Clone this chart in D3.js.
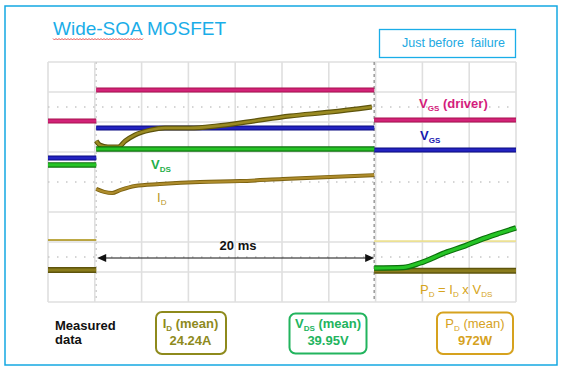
<!DOCTYPE html>
<html><head><meta charset="utf-8">
<script src="https://cdn.jsdelivr.net/npm/d3@7"></script>
<style>html,body{margin:0;padding:0;background:#fff;}svg{display:block;font-family:"Liberation Sans",Arial,sans-serif;}</style>
</head><body>
<script>
// ---- data (x in scope divisions 0..10, y in divisions 0..8) ----
const tOn = 1.03, tOff = 6.97, xEnd = 10;
const vgsDriver = { before: 6.03, during: 7.07, after: 6.07 };
const vgs       = { before: 4.80, during: 5.80, after: 5.07 };
const vdsBefore = 4.57, vdsDuring = 5.10;
const vdsAfter  = [[6.97,1.13],[7.59,1.15],[7.95,1.30],[8.53,1.67],[8.91,1.87],[9.23,2.07],[9.66,2.30],[10,2.47]];
const idBase    = 1.07;
const idDuring  = [[1.03,3.77],[1.20,3.67],[1.37,3.63],[1.54,3.73],[1.86,3.87],[2.39,3.93],[3.25,4.00],[4.10,4.03],[5.02,4.10],[6.03,4.17],[6.97,4.23]];
const pdBase    = 2.07;
const pdDuring  = [[1.03,5.37],[1.11,5.23],[1.28,5.17],[1.50,5.17],[1.65,5.37],[1.86,5.57],[2.18,5.73],[2.50,5.80],[3.03,5.80],[3.61,5.87],[4.25,6.00],[5.17,6.20],[6.03,6.33],[6.92,6.50]];
const dottedRows = [6.5, 4.0, 1.5];
const measLabels = ["I|D| (mean)", "V|DS| (mean)", "P|D| (mean)"];
const measValues = ["24.24A", "39.95V", "972W"];
const arrowLabel = "20 ms";

const W = 562, H = 371;
const svg = d3.select("body").append("svg").attr("width", W).attr("height", H);
const x = d3.scaleLinear().domain([0, 10]).range([48, 516]);
const y = d3.scaleLinear().domain([0, 8]).range([302, 62]);
const line = d3.line().x(d => x(d[0])).y(d => y(d[1]));
const smooth = d3.line().x(d => x(d[0])).y(d => y(d[1])).curve(d3.curveMonotoneX);

// outer frame
svg.append("rect").attr("x", 5).attr("y", 6).attr("width", 552).attr("height", 359)
  .attr("fill", "none").attr("stroke", "#14A8E2").attr("stroke-width", 1.5);

// title
svg.append("text").attr("x", 53).attr("y", 35).attr("font-size", 19).attr("fill", "#1AADE8")
  .text("Wide-SOA MOSFET");
let sq = "M53,38.5";
for (let i = 0, xx = 53; xx < 143; i++) { xx += 1.5; sq += "L" + xx + "," + (i % 2 ? 38.5 : 40); }
svg.append("path").attr("d", sq).attr("fill", "none").attr("stroke", "#E02828").attr("stroke-width", 0.8);

// "Just before failure" box
svg.append("rect").attr("x", 379.5).attr("y", 29.5).attr("width", 136).attr("height", 28)
  .attr("fill", "none").attr("stroke", "#1AADE8").attr("stroke-width", 1.3);
svg.append("text").attr("x", 402).attr("y", 47).attr("font-size", 12.5).attr("fill", "#22A9E2")
  .attr("xml:space", "preserve").text("Just before  failure");

// grid
const g = svg.append("g");
g.selectAll(".vg").data(d3.range(0, 11)).join("line")
  .attr("x1", d => x(d)).attr("x2", d => x(d)).attr("y1", y(8)).attr("y2", y(0))
  .attr("stroke", "#DFDFDF").attr("stroke-width", 1.6);
g.selectAll(".hg").data(d3.range(0, 9).filter(d => d !== 4)).join("line")
  .attr("x1", x(0)).attr("x2", x(10)).attr("y1", d => y(d)).attr("y2", d => y(d))
  .attr("stroke", "#DFDFDF").attr("stroke-width", 1.6);
g.selectAll(".dg").data(dottedRows).join("line")
  .attr("x1", x(0)).attr("x2", x(10)).attr("y1", d => y(d)).attr("y2", d => y(d))
  .attr("stroke", "#C8C8C8").attr("stroke-width", 1.4).attr("stroke-dasharray", "1.5,7.5");
// trigger transition line
svg.append("line").attr("x1", x(tOff)).attr("x2", x(tOff)).attr("y1", y(8)).attr("y2", y(0))
  .attr("stroke", "#9A9A9A").attr("stroke-width", 1.5).attr("stroke-dasharray", "3,3");
svg.append("line").attr("x1", x(tOn)).attr("x2", x(tOn)).attr("y1", y(8)).attr("y2", y(0))
  .attr("stroke", "#C8C8C8").attr("stroke-width", 1.2).attr("stroke-dasharray", "2,4");

function trace(pts, dark, core, wDark, wCore, curve) {
  const gen = curve ? smooth : line;
  svg.append("path").attr("d", gen(pts)).attr("fill", "none").attr("stroke", dark).attr("stroke-width", wDark);
  svg.append("path").attr("d", gen(pts)).attr("fill", "none").attr("stroke", core).attr("stroke-width", wCore);
}
const flat = (a, b, v) => [[a, v], [b, v]];

// PD thin baseline
trace(flat(0, tOn, pdBase), "#B09A38", "#C2AE4A", 2, 1.2);
trace(flat(tOff, xEnd, pdBase - 0.04), "#EADB80", "#EEE290", 1.4, 1);

// VGS driver (magenta)
trace(flat(0, tOn, vgsDriver.before), "#A8104E", "#D22378", 5, 3);
trace(flat(tOn, tOff, vgsDriver.during), "#A8104E", "#D22378", 5, 3);
trace(flat(tOff, xEnd, vgsDriver.after), "#A8104E", "#D22378", 5, 3);
// VGS (blue)
trace(flat(0, tOn, vgs.before), "#0A0A80", "#2323C0", 5, 3);
trace(flat(tOn, tOff, vgs.during), "#0A0A80", "#2323C0", 5, 3);
trace(flat(tOff, xEnd, vgs.after), "#0A0A80", "#2323C0", 5, 3);
// PD during (olive)
trace(pdDuring, "#5E540C", "#9A8A22", 5, 2.6, true);
// ID (olive/brown)
trace(flat(0, tOn, idBase), "#5E540C", "#8A7C1C", 6, 3);
trace(idDuring, "#7C6210", "#AE8C2C", 4, 2.2, true);
trace(flat(tOff, xEnd, idBase - 0.03), "#5E540C", "#8A7C1C", 6, 3);
// VDS (green)
trace(flat(0, tOn, vdsBefore), "#0C700C", "#26C426", 5.5, 3.2);
trace(flat(tOn, tOff, vdsDuring), "#0C700C", "#26C426", 5.5, 3.2);
trace(vdsAfter, "#0C700C", "#26C426", 5.5, 3.2, true);

// arrow 20 ms
const ay = 258;
svg.append("line").attr("x1", x(tOn) + 6).attr("x2", x(tOff) - 6).attr("y1", ay).attr("y2", ay)
  .attr("stroke", "#111").attr("stroke-width", 1);
svg.append("path").attr("d", `M${x(tOn) + 1},${ay}L${x(tOn) + 10},${ay - 4}L${x(tOn) + 10},${ay + 4}Z`).attr("fill", "#111");
svg.append("path").attr("d", `M${x(tOff)},${ay}L${x(tOff) - 9},${ay - 4}L${x(tOff) - 9},${ay + 4}Z`).attr("fill", "#111");
svg.append("text").attr("x", 238).attr("y", 250).attr("text-anchor", "middle").attr("font-size", 13)
  .attr("font-weight", "bold").attr("fill", "#111").text(arrowLabel);

// labels with subscripts: "main|sub|rest"
function sublabel(parent, px, py, spec, color, size, weight, anchor) {
  const [a, b, c] = spec.split("|");
  const t = parent.append("text").attr("x", px).attr("y", py).attr("fill", color)
    .attr("font-size", size).attr("font-weight", weight).attr("text-anchor", anchor || "start")
    .attr("xml:space", "preserve");
  t.append("tspan").text(a);
  t.append("tspan").attr("font-size", size * 0.62).attr("dy", 3).text(b);
  if (c) t.append("tspan").attr("dy", -3).text(c);
  return t;
}
function multiSub(px, py, parts, color, size, weight) {
  const t = svg.append("text").attr("x", px).attr("y", py).attr("fill", color)
    .attr("font-size", size).attr("font-weight", weight).attr("xml:space", "preserve");
  parts.forEach(p => {
    if (p.sub) t.append("tspan").attr("font-size", size * 0.62).attr("dy", 3).text(p.t);
    else t.append("tspan").attr("dy", p.after ? -3 : 0).text(p.t);
  });
}
sublabel(svg, 419, 108, "V|GS| (driver)", "#D41C7C", 13, "bold");
sublabel(svg, 420, 140, "V|GS|", "#1818B0", 13, "bold");
sublabel(svg, 151, 169, "V|DS|", "#1FAF4A", 13, "bold");
sublabel(svg, 157, 202, "I|D|", "#B8961E", 13, "normal");
multiSub(420, 294, [{t:"P"},{t:"D",sub:true},{t:" = I",after:true},{t:"D",sub:true},{t:" x V",after:true},{t:"DS",sub:true}], "#D6A420", 13, "normal");

// measured data
svg.append("text").attr("x", 55).attr("y", 330).attr("font-size", 13).attr("font-weight", "bold").attr("fill", "#111").text("Measured");
svg.append("text").attr("x", 55).attr("y", 344).attr("font-size", 13).attr("font-weight", "bold").attr("fill", "#111").text("data");

const boxes = [
  { x: 156, y: 312, w: 70, h: 42, color: "#8E8A1C", cx: 190.5, w1: "bold" },
  { x: 289.5, y: 313.5, w: 77, h: 40, color: "#22B45E", cx: 328, w1: "bold" },
  { x: 437, y: 312.5, w: 76, h: 41.5, color: "#D6A21E", cx: 475, w1: "normal" }
];
boxes.forEach((b, i) => {
  svg.append("rect").attr("x", b.x).attr("y", b.y).attr("width", b.w).attr("height", b.h)
    .attr("rx", 6).attr("fill", "#fff").attr("stroke", b.color).attr("stroke-width", 2);
  sublabel(svg, b.cx, 328, measLabels[i], b.color, 13, b.w1, "middle");
  svg.append("text").attr("x", b.cx).attr("y", 345).attr("text-anchor", "middle").attr("font-size", 13)
    .attr("font-weight", "bold").attr("fill", b.color).text(measValues[i]);
});
</script>
</body></html>
